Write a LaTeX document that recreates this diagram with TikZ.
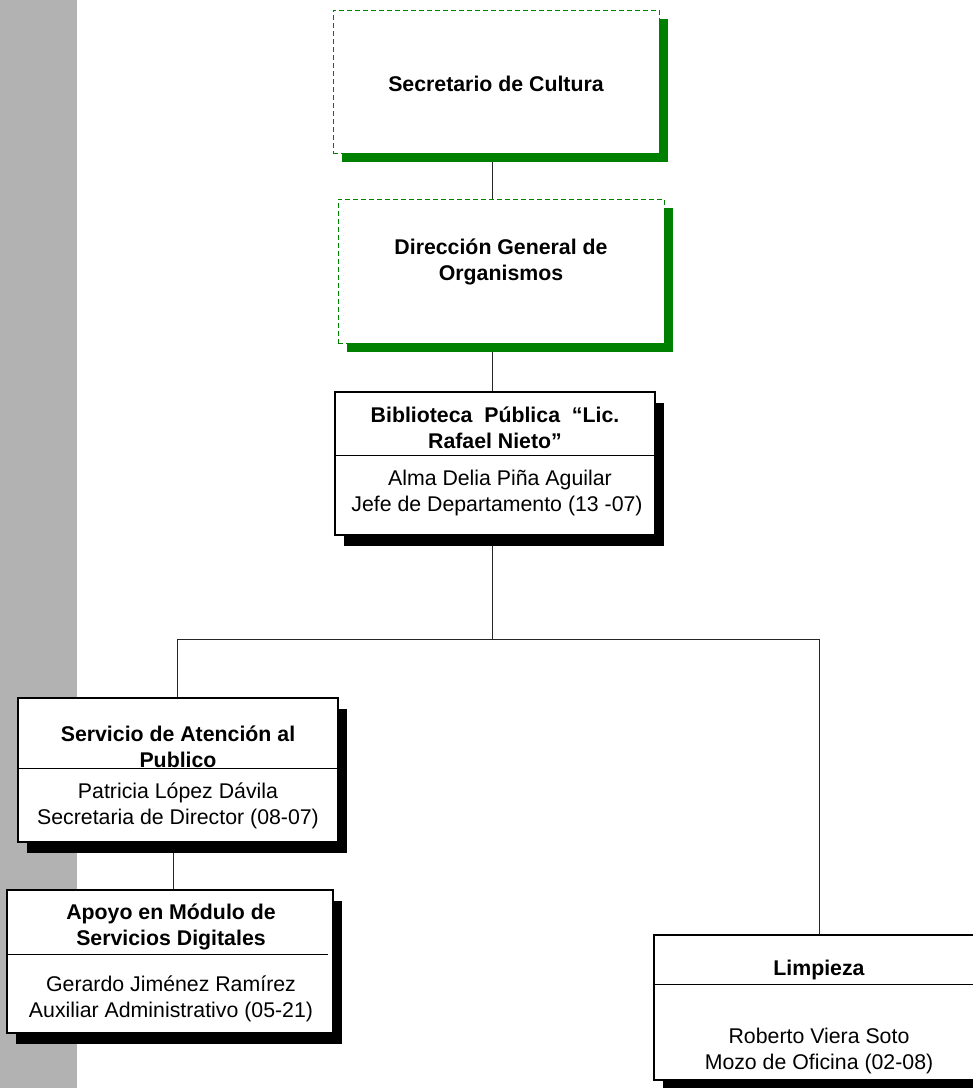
\documentclass[tikz,border=0pt]{standalone}
\usepackage{fontspec}
\setmainfont{Liberation Sans}
\usetikzlibrary{shadows}
\pgfdeclarelayer{edgelayer}
\pgfdeclarelayer{nodelayer}
\pgfsetlayers{edgelayer,nodelayer,main}
\definecolor{bandgrey}{RGB}{178,178,178}
\definecolor{orggreen}{RGB}{0,128,0}
\tikzstyle{none}=[inner sep=0pt,align=center,font=\fontsize{21.3}{25.5}\selectfont]
\tikzstyle{title}=[inner sep=0pt,align=center,font=\fontsize{21.3}{25.5}\selectfont\bfseries]
\tikzstyle{green_box}=[draw=orggreen,line width=1pt,dash pattern=on 5pt off 3pt,fill=white,
	drop shadow={fill=orggreen,opacity=1,shadow xshift=9pt,shadow yshift=-9pt}]
\tikzstyle{unit_box}=[draw=black,line width=1.3pt,fill=white,
	drop shadow={fill=black,opacity=1,shadow xshift=9pt,shadow yshift=-11pt}]
\tikzstyle{link}=[draw=black!85,line width=1pt]

\begin{document}
\begin{tikzpicture}[x=1pt,y=-1pt]
	\useasboundingbox (0,0) rectangle (973,1088);
	\begin{pgfonlayer}{nodelayer}
		\node [style={green_box},minimum width=326pt,minimum height=143pt] (0) at (496, 81.5) {};
		\node [style={green_box},minimum width=326pt,minimum height=144pt] (1) at (501, 271) {};
		\node [style={unit_box},minimum width=320pt,minimum height=143pt] (2) at (495, 463.5) {};
		\node [style={unit_box},minimum width=320pt,minimum height=144pt] (3) at (178, 770) {};
		\node [style={unit_box},minimum width=326pt,minimum height=143pt] (4) at (170, 961.5) {};
		\node [style={unit_box},minimum width=330pt,minimum height=145pt] (5) at (819, 1007.5) {};
		\coordinate (7) at (492, 639);
		\coordinate (8) at (177, 639);
		\coordinate (9) at (819, 639);
	\end{pgfonlayer}
	% dividers and texts
	\draw [line width=1pt] (2.west |- 0,455) -- (2.east |- 0,455);
	\draw [line width=1pt] (3.west |- 0,768) -- (3.east |- 0,768);
	\draw [line width=1pt] (4.west |- 0,954) -- (328,954);
	\draw [line width=1pt] (5.west |- 0,984) -- (5.east |- 0,984);
	\node [style=title] (10) at (496, 84) {Secretario de Cultura};
	\node [style=title] (11) at (501, 262) {Dirección General de\\Organismos};
	\node [style=title] (12) at (495, 428) {Biblioteca\ \ Pública\ \ “Lic.\\Rafael Nieto”};
	\node [style=none] (13) at (497, 493) {\ Alma Delia Piña Aguilar\\Jefe de Departamento (13 -07)};
	\node [style=title] (14) at (178, 747) {Servicio de Atención al\\Publico};
	\node [style=none] (15) at (178, 806) {Patricia López Dávila\\Secretaria de Director (08-07)};
	\node [style=title] (16) at (171, 927) {Apoyo en Módulo de\\Servicios Digitales};
	\node [style=none] (17) at (171, 999) {Gerardo Jiménez Ramírez\\Auxiliar Administrativo (05-21)};
	\node [style=title] (18) at (819, 970) {Limpieza};
	\node [style=none] (19) at (819, 1051) {Roberto Viera Soto\\Mozo de Oficina (02-08)};
	\begin{pgfonlayer}{edgelayer}
		\fill [bandgrey] (0,0) rectangle (77,1088);
		\draw [style=link] (0.south -| 7) -- (1.north -| 7);
		\draw [style=link] (1.south -| 7) -- (2.north -| 7);
		\draw [style=link] (2.south -| 7) -- (7);
		\draw [style=link] (8) -- (9);
		\draw [style=link] (8) -- (3.north -| 8);
		\draw [style=link] (9) -- (5.north -| 9);
		\draw [style=link] (3.south -| 173,0) -- (4.north -| 173,0);
	\end{pgfonlayer}
\end{tikzpicture}
\end{document}
